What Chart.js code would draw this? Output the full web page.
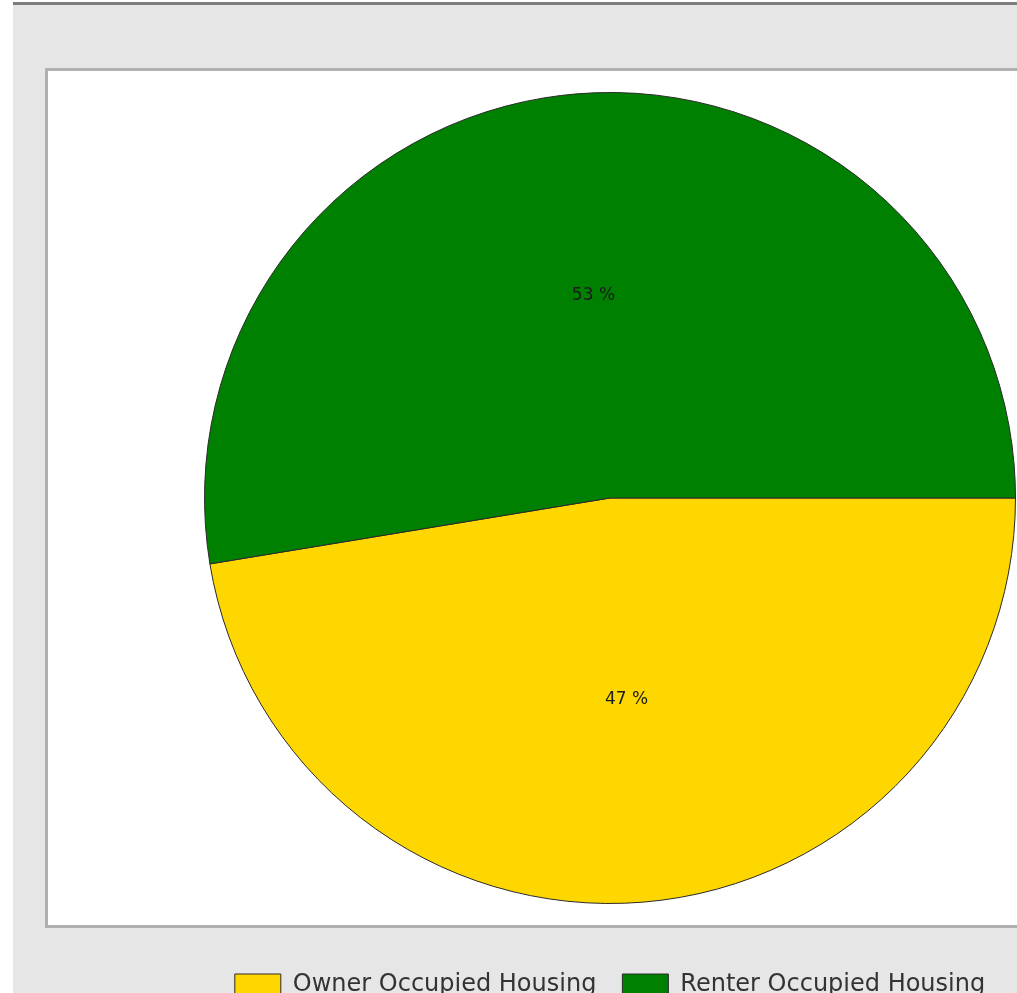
<!DOCTYPE html>
<html>
<head>
<meta charset="utf-8">
<script src="https://cdn.jsdelivr.net/npm/chart.js@4.4.0/dist/chart.umd.min.js"></script>
<style>
  html, body { margin: 0; padding: 0; background: #fff; overflow: hidden; }
  #bg { position: absolute; left: 13px; top: 2px; width: 1004px; height: 991px;
        background: #e6e6e6; border-top: 3px solid #7d7d7d; }
  #panel { position: absolute; left: 45px; top: 68px; width: 990px; height: 854px;
           background: #fff; border: 3px solid #b0b0b0; }
  #wrap { position: absolute; left: 0; top: 0; width: 1017px; height: 1007px; }
</style>
</head>
<body>
<div id="bg"></div>
<div id="panel"></div>
<div id="wrap"><canvas id="myChart"></canvas></div>
<script>
var labels = ["Owner Occupied Housing", "Renter Occupied Housing"];
var shares = [47.4, 52.6];
var colors = ["#ffd700", "#008000"];

// percentage text in the middle of each slice
var sliceLabels = {
  id: "sliceLabels",
  afterDatasetsDraw: function (chart) {
    var ctx = chart.ctx;
    var meta = chart.getDatasetMeta(0);
    var total = shares.reduce(function (a, b) { return a + b; }, 0);
    ctx.save();
    ctx.font = "17px 'DejaVu Sans'";
    ctx.fillStyle = "#1c1c1c";
    ctx.textAlign = "center";
    ctx.textBaseline = "middle";
    meta.data.forEach(function (arc, i) {
      var p = arc.tooltipPosition();
      ctx.fillText(Math.round(shares[i] / total * 100) + " %", p.x, p.y);
    });
    ctx.restore();
  }
};

var myChart = document.getElementById("myChart").getContext("2d");
var chart = new Chart(myChart, {
  type: "pie",
  data: {
    labels: labels,
    datasets: [
      {
        data: shares,
        backgroundColor: colors,
        borderColor: "#2a2a2a",
        borderWidth: 1,
      },
    ],
  },
  options: {
    responsive: true,
    maintainAspectRatio: false,
    animation: false,
    rotation: 90,
    layout: { padding: { left: 204, right: 1, top: 49, bottom: 0 } },
    plugins: {
      tooltip: { enabled: false },
      legend: {
        position: "bottom",
        labels: {
          color: "#333",
          font: { family: "'DejaVu Sans'", size: 24 },
          boxWidth: 46,
          boxHeight: 22,
          padding: 26,
        },
      },
    },
  },
  plugins: [sliceLabels],
});
</script>
</body>
</html>
